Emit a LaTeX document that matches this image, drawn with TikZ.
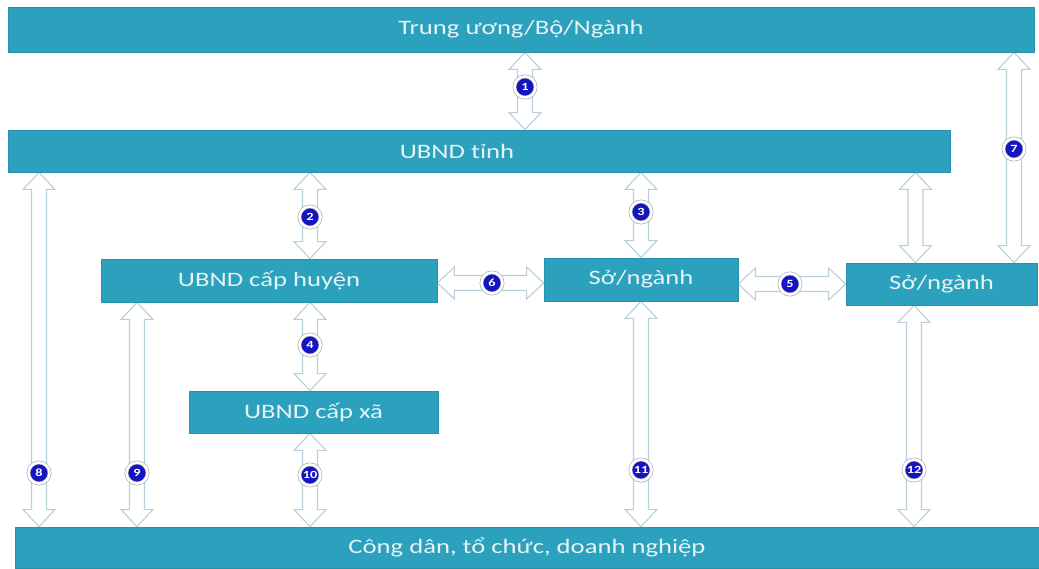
\documentclass[tikz,border=0pt]{standalone}
\usepackage{fontspec}
\newfontfamily\diafont[FakeStretch=1.3]{Carlito}
\usepackage{tikz}
\usetikzlibrary{positioning}
\usetikzlibrary{calc, backgrounds}

\definecolor{barfill}{HTML}{2CA1BD}
\definecolor{barline}{HTML}{2790AA}
\definecolor{bartext}{HTML}{E6F3F7}
\definecolor{arrline}{HTML}{B8D0DA}
\definecolor{badgeblue}{HTML}{1414C0}
\definecolor{ringgray}{HTML}{A0A0B4}

\tikzset{
  box/.style={rectangle, fill=barfill, draw=barline, line width=0.8pt,
    inner sep=0pt, text=bartext, font=\diafont\fontsize{20.5}{24}\selectfont},
  badge/.style={circle, fill=badgeblue, draw=ringgray, double=white,
    double distance=2.6pt, line width=0.6pt, inner sep=0pt, minimum size=21pt,
    text=white, font=\diafont\bfseries\fontsize{11}{11}\selectfont},
  dblarr/.style={draw=arrline, fill=white, line width=1.1pt, line join=miter,
    to path={let \p1=(\tikztostart), \p2=(\tikztotarget),
      \n1={atan2(\y2-\y1,\x2-\x1)} in
      (\p1) -- ($(\p1)+(\n1:17pt)+({\n1+90}:16pt)$)
      -- ($(\p1)+(\n1:17pt)+({\n1+90}:7.5pt)$)
      -- ($(\p2)+(\n1:-17pt)+({\n1+90}:7.5pt)$)
      -- ($(\p2)+(\n1:-17pt)+({\n1+90}:16pt)$) -- (\p2)
      -- ($(\p2)+(\n1:-17pt)+({\n1-90}:16pt)$)
      -- ($(\p2)+(\n1:-17pt)+({\n1-90}:7.5pt)$)
      -- ($(\p1)+(\n1:17pt)+({\n1-90}:7.5pt)$)
      -- ($(\p1)+(\n1:17pt)+({\n1-90}:16pt)$) -- cycle}}
}

\begin{document}
\begin{tikzpicture}[x=1pt, y=-1pt]
  \useasboundingbox (0,0) rectangle (1039,568);

  % khoi
  \node[box, minimum width=1026, minimum height=45] (tw) at (521,29.5) {Trung ương/Bộ/Ngành};
  \node[box, minimum width=942, minimum height=42] (tinh) at (479,151) {UBND tỉnh\hspace*{44pt}};
  \node[box, minimum width=336, minimum height=43] (huyen) at (269,280.5) {UBND cấp huyện};
  \node[box, minimum width=194, minimum height=43] (so1) at (641,279.5) {Sở/ngành};
  \node[box, minimum width=191, minimum height=42] (so2) at (941.5,284) {Sở/ngành};
  \node[box, minimum width=249, minimum height=42] (xa) at (313.5,412) {UBND cấp xã};
  \node[box, minimum width=1024, minimum height=41] (bot) at (527,547.5) {Công dân, tổ chức, doanh nghiệp};

  % so thu tu
  \node[badge] (b1) at (525,87) {1};
  \node[badge] (b2) at (310,217) {2};
  \node[badge] (b3) at (641,212) {3};
  \node[badge] (b4) at (310,345) {4};
  \node[badge] (b5) at (790,284) {5};
  \node[badge] (b6) at (492,283) {6};
  \node[badge] (b7) at (1014,149) {7};
  \node[badge] (b8) at (39,473) {8};
  \node[badge] (b9) at (137,473) {9};
  \node[badge] (b10) at (310,475) {10};
  \node[badge] (b11) at (641,470) {11};
  \node[badge] (b12) at (914,470) {12};
  \coordinate (sotop) at ([xshift=-26]so2.north);

  \begin{pgfonlayer}{background}
    \draw[dblarr] (tw.south -| b1) to (tinh.north -| b1);
    \draw[dblarr] (tinh.south -| b2) to (huyen.north -| b2);
    \draw[dblarr] (tinh.south -| b3) to (so1.north -| b3);
    \draw[dblarr] (huyen.south -| b4) to (xa.north -| b4);
    \draw[dblarr] (so1.east |- b5) to (so2.west |- b5);
    \draw[dblarr] (huyen.east |- b6) to (so1.west |- b6);
    \draw[dblarr] (tw.south -| b7) to (so2.north -| b7);
    \draw[dblarr] (tinh.south -| b8) to (bot.north -| b8);
    \draw[dblarr] (huyen.south -| b9) to (bot.north -| b9);
    \draw[dblarr] (xa.south -| b10) to (bot.north -| b10);
    \draw[dblarr] (so1.south -| b11) to (bot.north -| b11);
    \draw[dblarr] (so2.south -| b12) to (bot.north -| b12);
    \draw[dblarr] (tinh.south -| sotop) to (sotop);
  \end{pgfonlayer}
\end{tikzpicture}
\end{document}
